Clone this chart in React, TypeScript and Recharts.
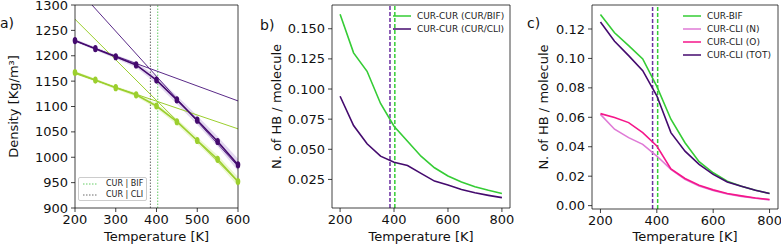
import React from 'react';
import { ComposedChart, LineChart, Line, Area, XAxis, YAxis, ReferenceLine } from 'recharts';

// panel a) density vs temperature
const tempA = [200, 250, 300, 350, 400, 450, 500, 550, 600];
const densCli = [1230, 1214, 1198, 1182, 1152, 1113, 1073, 1031, 985];
const densBif = [1167, 1152, 1137, 1123, 1101, 1070, 1033, 996, 952];
const spreadCli = [3, 3, 4, 5, 7, 8, 9, 10, 12];
const spreadBif = [3, 3, 3, 4, 5, 6, 7, 8, 9];
const fitCliLow = [1229, 1111];
const fitCliHigh = [1337, 982];
const fitBifLow = [1165, 1056];
const fitBifHigh = [1272, 952];
const tgCli = 385;
const tgBif = 403;

// panels b) and c) HB vs temperature
const tempB = [200, 250, 300, 350, 400, 450, 500, 550, 600, 650, 700, 750, 800];
const hbCurBif = [0.162, 0.13, 0.1147, 0.088, 0.0691, 0.0567, 0.0443, 0.0347, 0.0278, 0.0229, 0.019, 0.016, 0.0134];
const hbCurCli = [0.094, 0.0697, 0.0546, 0.0443, 0.0393, 0.0366, 0.03, 0.0236, 0.0203, 0.0167, 0.0139, 0.0118, 0.0099];

const hbBif = [0.1299, 0.1174, 0.1087, 0.0997, 0.081, 0.0587, 0.0427, 0.0298, 0.0223, 0.0166, 0.0132, 0.0104, 0.0082];
const hbCliN = [0.062, 0.0519, 0.0462, 0.0416, 0.0337, 0.0246, 0.0178, 0.0133, 0.0102, 0.0079, 0.0063, 0.005, 0.0039];
const hbCliO = [0.0625, 0.0598, 0.0564, 0.0496, 0.0405, 0.025, 0.0184, 0.0139, 0.0107, 0.0082, 0.0066, 0.0052, 0.0041];
const hbCliTot = [0.1247, 0.1117, 0.1019, 0.0917, 0.0746, 0.0496, 0.037, 0.028, 0.0212, 0.016, 0.0132, 0.0104, 0.0082];

const ticksA_x = [200, 300, 400, 500, 600];
const ticksA_y = [900, 950, 1000, 1050, 1100, 1150, 1200, 1250, 1300];
const ticksB_x = [200, 400, 600, 800];
const ticksB_y = [0.025, 0.05, 0.075, 0.1, 0.125, 0.15];
const ticksC_y = [0, 0.02, 0.04, 0.06, 0.08, 0.1, 0.12];

const domA_x = [200, 600];
const domA_y = [900, 1300];
const domB_x = [170, 830];
const domB_y = [0.0013, 0.1697];
const domC_y = [-0.0023, 0.1363];

const FONT = 'DejaVu Sans, sans-serif';
const PURPLE = '#440a6e';
const PURPLE_DASH = '#6b2fa0';
const GREEN = '#35cc35';
const YG = '#9ccf2e';
const PINK = '#f5168a';
const ORCHID = '#df7ad6';

const tableA = tempA.map((t, i) => ({
  t,
  cli: densCli[i],
  bif: densBif[i],
  cliBand: [densCli[i] - spreadCli[i], densCli[i] + spreadCli[i]],
  bifBand: [densBif[i] - spreadBif[i], densBif[i] + spreadBif[i]],
  cliLow: i === 0 ? fitCliLow[0] : i === tempA.length - 1 ? fitCliLow[1] : undefined,
  cliHigh: i === 0 ? fitCliHigh[0] : i === tempA.length - 1 ? fitCliHigh[1] : undefined,
  bifLow: i === 0 ? fitBifLow[0] : i === tempA.length - 1 ? fitBifLow[1] : undefined,
  bifHigh: i === 0 ? fitBifHigh[0] : i === tempA.length - 1 ? fitBifHigh[1] : undefined,
}));

const tableB = tempB.map((t, i) => ({ t, bif: hbCurBif[i], cli: hbCurCli[i] }));
const tableC = tempB.map((t, i) => ({ t, bif: hbBif[i], n: hbCliN[i], o: hbCliO[i], tot: hbCliTot[i] }));

const tickStyle = { fill: '#111', fontSize: 13, fontFamily: FONT };
const axisLine = { stroke: '#111', strokeWidth: 0.8 };
const xLabel = { value: 'Temperature [K]', position: 'insideBottom', offset: 5, fill: '#111', fontSize: 13, fontFamily: FONT } as any;
const yLabel = (value: string, offset: number) =>
  ({ value, angle: -90, position: 'insideLeft', offset, fill: '#111', fontSize: 13, fontFamily: FONT, style: { textAnchor: 'middle' } }) as any;

const Marker = (color: string) => (props: any) => {
  const { cx, cy } = props;
  if (cx == null || cy == null) return null;
  return <ellipse cx={cx} cy={cy} rx={2.3} ry={3.6} fill={color} />;
};

// top and right spines
const frame = (xMax: number, yMax: number) => [
  <ReferenceLine key="top" y={yMax} stroke="#111" strokeWidth={0.8} />,
  <ReferenceLine key="right" x={xMax} stroke="#111" strokeWidth={0.8} />,
];

const LegendRow = ({ color, label }: { color: string; label: string }) => (
  <div style={{ display: 'flex', alignItems: 'center', height: 13, fontSize: 9, color: '#222', whiteSpace: 'nowrap' }}>
    <svg width={18} height={6} style={{ marginRight: 6, flexShrink: 0 }}>
      <line x1={0} y1={3} x2={18} y2={3} stroke={color} strokeWidth={1.5} />
    </svg>
    {label}
  </div>
);

const DotRow = ({ color, label }: { color: string; label: string }) => (
  <div style={{ height: 11, display: 'flex', alignItems: 'center', fontSize: 8, color: '#222', whiteSpace: 'nowrap' }}>
    <svg width={15} height={4} style={{ marginRight: 8, flexShrink: 0 }}>
      <line x1={0} y1={2} x2={15} y2={2} stroke={color} strokeWidth={0.8} strokeDasharray="1.5 1.5" />
    </svg>
    {label}
  </div>
);

const PanelA = () => (
  <div style={{ position: 'absolute', left: 0, top: 0 }}>
    <ComposedChart width={256} height={246} data={tableA} margin={{ top: 5, right: 18, bottom: 0, left: 0 }}>
      <XAxis dataKey="t" type="number" domain={domA_x} ticks={ticksA_x} tick={tickStyle} tickSize={4} tickMargin={3}
        axisLine={axisLine} tickLine={axisLine} height={38} label={xLabel} />
      <YAxis type="number" domain={domA_y} ticks={ticksA_y} allowDataOverflow tick={tickStyle} tickSize={4} tickMargin={3}
        axisLine={axisLine} tickLine={axisLine} width={75} interval={0} label={yLabel('Density [Kg/m³]', 13)} />
      <Area dataKey="cliBand" stroke="none" fill="#8a5fc0" fillOpacity={0.25} isAnimationActive={false} />
      <Area dataKey="bifBand" stroke="none" fill="#c6e77a" fillOpacity={0.35} isAnimationActive={false} />
      <ReferenceLine x={tgCli} stroke="#444" strokeWidth={0.8} strokeDasharray="1.5 1.5" />
      <ReferenceLine x={tgBif} stroke="#3ebf3e" strokeWidth={0.8} strokeDasharray="1.5 1.5" />
      <Line dataKey="cliLow" stroke="#5a2a88" strokeWidth={1} dot={false} connectNulls isAnimationActive={false} />
      <Line dataKey="cliHigh" stroke="#5a2a88" strokeWidth={1} dot={false} connectNulls isAnimationActive={false} />
      <Line dataKey="bifLow" stroke={YG} strokeWidth={1} dot={false} connectNulls isAnimationActive={false} />
      <Line dataKey="bifHigh" stroke={YG} strokeWidth={1} dot={false} connectNulls isAnimationActive={false} />
      <Line dataKey="cli" stroke={PURPLE} strokeWidth={1.6} dot={Marker(PURPLE)} isAnimationActive={false} />
      <Line dataKey="bif" stroke={YG} strokeWidth={1.6} dot={Marker(YG)} isAnimationActive={false} />
      {frame(domA_x[1], domA_y[1])}
    </ComposedChart>
    <div style={{ position: 'absolute', left: 78, top: 177, width: 69, height: 24, border: '1px solid #ccc', borderRadius: 2,
      background: '#fff', boxSizing: 'border-box', padding: '0 0 0 4px', fontFamily: FONT }}>
      <DotRow color="#3ebf3e" label="CUR | BIF" />
      <DotRow color="#444" label="CUR | CLI" />
    </div>
    <div style={{ position: 'absolute', left: 0, top: 15, fontSize: 14, fontFamily: FONT, color: '#111' }}>a)</div>
  </div>
);

const PanelB = () => (
  <div style={{ position: 'absolute', left: 260, top: 0 }}>
    <LineChart width={264} height={246} data={tableB} margin={{ top: 5, right: 14, bottom: 0, left: 0 }}>
      <XAxis dataKey="t" type="number" domain={domB_x} ticks={ticksB_x} tick={tickStyle} tickSize={4} tickMargin={3}
        axisLine={axisLine} tickLine={axisLine} height={38} label={xLabel} />
      <YAxis type="number" domain={domB_y} ticks={ticksB_y} tick={tickStyle} tickSize={4} tickMargin={3}
        tickFormatter={(v: number) => v.toFixed(3)} axisLine={axisLine} tickLine={axisLine} width={72} interval={0}
        label={yLabel('N. of HB / molecule', 16)} />
      <ReferenceLine x={tgCli} stroke={PURPLE_DASH} strokeWidth={1.5} strokeDasharray="4 2" />
      <ReferenceLine x={tgBif} stroke={GREEN} strokeWidth={1.5} strokeDasharray="4 2" />
      <Line dataKey="bif" stroke={GREEN} strokeWidth={1.6} dot={false} isAnimationActive={false} />
      <Line dataKey="cli" stroke={PURPLE} strokeWidth={1.6} dot={false} isAnimationActive={false} />
      {frame(domB_x[1], domB_y[1])}
    </LineChart>
    <div style={{ position: 'absolute', left: 133, top: 9, fontFamily: FONT }}>
      <LegendRow color={GREEN} label="CUR-CUR (CUR/BIF)" />
      <LegendRow color={PURPLE} label="CUR-CUR (CUR/CLI)" />
    </div>
    <div style={{ position: 'absolute', left: 0, top: 17, fontSize: 14, fontFamily: FONT, color: '#111' }}>b)</div>
  </div>
);

const PanelC = () => (
  <div style={{ position: 'absolute', left: 520, top: 0 }}>
    <LineChart width={261} height={246} data={tableC} margin={{ top: 5, right: 3, bottom: 0, left: 0 }}>
      <XAxis dataKey="t" type="number" domain={domB_x} ticks={ticksB_x} tick={tickStyle} tickSize={4} tickMargin={3}
        axisLine={axisLine} tickLine={axisLine} height={37} label={xLabel} />
      <YAxis type="number" domain={domC_y} ticks={ticksC_y} tick={tickStyle} tickSize={4} tickMargin={3}
        tickFormatter={(v: number) => v.toFixed(2)} axisLine={axisLine} tickLine={axisLine} width={72} interval={0}
        label={yLabel('N. of HB / molecule', 23)} />
      <ReferenceLine x={tgCli} stroke={PURPLE_DASH} strokeWidth={1.5} strokeDasharray="4 2" />
      <ReferenceLine x={tgBif} stroke={GREEN} strokeWidth={1.5} strokeDasharray="4 2" />
      <Line dataKey="bif" stroke={GREEN} strokeWidth={1.6} dot={false} isAnimationActive={false} />
      <Line dataKey="n" stroke={ORCHID} strokeWidth={1.6} dot={false} isAnimationActive={false} />
      <Line dataKey="o" stroke={PINK} strokeWidth={1.6} dot={false} isAnimationActive={false} />
      <Line dataKey="tot" stroke={PURPLE} strokeWidth={1.6} dot={false} isAnimationActive={false} />
      {frame(domB_x[1], domC_y[1])}
    </LineChart>
    <div style={{ position: 'absolute', left: 163, top: 9, fontFamily: FONT }}>
      <LegendRow color={GREEN} label="CUR-BIF" />
      <LegendRow color={ORCHID} label="CUR-CLI (N)" />
      <LegendRow color={PINK} label="CUR-CLI (O)" />
      <LegendRow color={PURPLE} label="CUR-CLI (TOT)" />
    </div>
    <div style={{ position: 'absolute', left: 7, top: 15, fontSize: 14, fontFamily: FONT, color: '#111' }}>c)</div>
  </div>
);

export default function App() {
  return (
    <div style={{ position: 'absolute', left: 0, top: 0, width: 781, height: 246, background: '#fff', fontFamily: FONT, overflow: 'hidden' }}>
      <PanelA />
      <PanelB />
      <PanelC />
    </div>
  );
}
